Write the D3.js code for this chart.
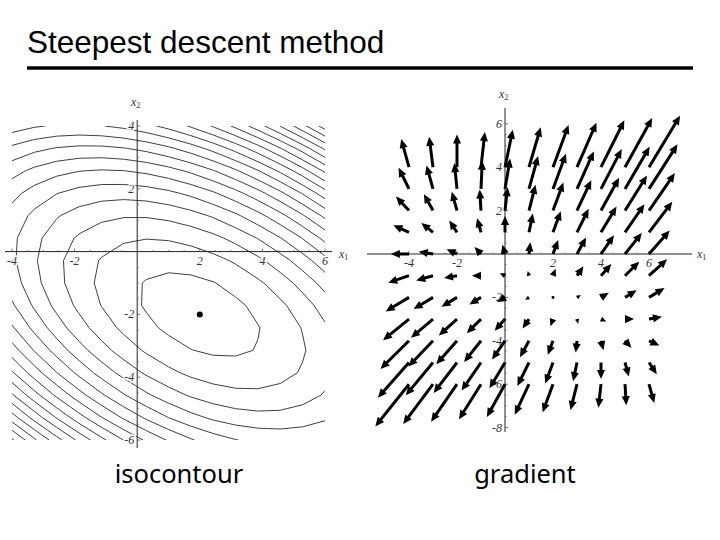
<!DOCTYPE html>
<html>
<head>
<meta charset="utf-8">
<script src="https://cdn.jsdelivr.net/npm/d3@7"></script>
<style>
  body { margin: 0; background: #fff; }
  svg { display: block; }
</style>
</head>
<body>
<svg id="chart" width="720" height="540"></svg>
<script>
// quadratic form f(x) = 1/2 x'Ax - b'x (minimum at (2,-2))
var quadA = [[3, 2], [2, 6]];
var quadB = [2, -8];
var minPoint = [2, -2];

// isocontour levels
var contourLevels = [-5.5, 3.5, 12.5, 21.5, 30.5, 39.5, 48.5, 57.5, 66.5, 75.5,
                     84.5, 93.5, 102.5, 111.5, 120.5, 129.5, 138.5, 147.5, 156.5, 165.5];

// gradient field sample grid
var fieldX1 = [-4, -3, -2, -1, 0, 1, 2, 3, 4, 5, 6];
var fieldX2 = [-6, -5, -4, -3, -2, -1, 0, 1, 2, 3, 4];
var arrowScale = 0.054;

// tick labels
var leftXTicks = [-4, -2, 2, 4, 6];
var leftYTicks = [-6, -4, -2, 2, 4];
var rightXTicks = [-4, -2, 2, 4, 6];
var rightYTicks = [-8, -6, -4, -2, 2, 4, 6];

var titleText = "Steepest descent method";
var captions = ["isocontour", "gradient"];

var svg = d3.select("#chart");
svg.append("rect").attr("width", 720).attr("height", 540).attr("fill", "#fff");

// title + rule
svg.append("text")
    .attr("x", 27).attr("y", 53)
    .attr("font-family", "'Liberation Sans', Arial, sans-serif")
    .attr("font-size", 31.5)
    .text(titleText);
svg.append("line")
    .attr("x1", 27).attr("x2", 693).attr("y1", 68).attr("y2", 68)
    .attr("stroke", "#000").attr("stroke-width", 3.5);

function f(x, y) {
    return 0.5 * (quadA[0][0] * x * x + 2 * quadA[0][1] * x * y + quadA[1][1] * y * y)
        - quadB[0] * x - quadB[1] * y;
}
function grad(x, y) {
    return [quadA[0][0] * x + quadA[0][1] * y - quadB[0],
            quadA[1][0] * x + quadA[1][1] * y - quadB[1]];
}

var tickFont = "'Liberation Serif', 'Times New Roman', serif";

function drawAxes(g, xs, ys, xExt, yExt, xTicks, yTicks, halo) {
    var x0 = xs(0), y0 = ys(0);
    g.append("line").attr("x1", xExt[0]).attr("x2", xExt[1]).attr("y1", y0).attr("y2", y0)
        .attr("stroke", "#222").attr("stroke-width", 1);
    g.append("line").attr("x1", x0).attr("x2", x0).attr("y1", yExt[0]).attr("y2", yExt[1])
        .attr("stroke", "#222").attr("stroke-width", 1);

    // major + minor ticks
    var xd = xs.domain(), yd = ys.domain();
    d3.range(Math.ceil(xd[0] * 2) / 2, xd[1] + 0.01, 0.5).forEach(function(v) {
        if (v === 0) return;
        var major = Math.abs(v % 2) < 1e-9;
        g.append("line").attr("x1", xs(v)).attr("x2", xs(v))
            .attr("y1", y0 - (major ? 3 : 1.5)).attr("y2", y0)
            .attr("stroke", "#555").attr("stroke-width", 0.8);
    });
    d3.range(Math.ceil(yd[0] * 2) / 2, yd[1] + 0.01, 0.5).forEach(function(v) {
        if (v === 0) return;
        var major = Math.abs(v % 2) < 1e-9;
        g.append("line").attr("x1", x0).attr("x2", x0 + (major ? 3 : 1.5))
            .attr("y1", ys(v)).attr("y2", ys(v))
            .attr("stroke", "#555").attr("stroke-width", 0.8);
    });

    var xt = g.selectAll(".xt").data(xTicks).enter().append("text")
        .attr("x", function(d) { return xs(d); })
        .attr("y", y0 + 13)
        .attr("text-anchor", "middle")
        .attr("font-family", tickFont).attr("font-size", 12).attr("font-style", "italic")
        .attr("fill", "#333")
        .text(function(d) { return d; });
    var yt = g.selectAll(".yt").data(yTicks).enter().append("text")
        .attr("x", x0 - 3)
        .attr("y", function(d) { return ys(d) + 4; })
        .attr("text-anchor", "end")
        .attr("font-family", tickFont).attr("font-size", 12).attr("font-style", "italic")
        .attr("fill", "#333")
        .text(function(d) { return d; });
    if (halo) {
        [xt, yt].forEach(function(sel) {
            sel.attr("stroke", "#fff").attr("stroke-width", 3).attr("paint-order", "stroke");
        });
    }
}

function axisName(g, x, y, sub) {
    var t = g.append("text").attr("x", x).attr("y", y)
        .attr("font-family", tickFont).attr("font-size", 12).attr("font-style", "italic")
        .attr("fill", "#333");
    t.append("tspan").text("x");
    t.append("tspan").attr("font-size", 8).attr("dy", 2).attr("font-style", "normal").text(sub);
}

// ---------- left: isocontours ----------
var xL = d3.scaleLinear().domain([-4, 6]).range([12, 325]);
var yL = d3.scaleLinear().domain([-6, 4]).range([440, 126]);
var left = svg.append("g");

var gridN = 15;
var stepX = 10 / (gridN - 1), stepY = 10 / (gridN - 1);
var values = new Array(gridN * gridN);
for (var j = 0; j < gridN; j++) {
    for (var i = 0; i < gridN; i++) {
        values[i + j * gridN] = f(-4 + i * stepX, 4 - j * stepY);
    }
}
var contours = d3.contours().size([gridN, gridN]).thresholds(contourLevels)(values);
var proj = d3.geoTransform({
    point: function(cx, cy) {
        this.stream.point(xL(-4 + (cx - 0.5) * stepX), yL(4 - (cy - 0.5) * stepY));
    }
});
var cpath = d3.geoPath(proj);

left.append("clipPath").attr("id", "clipL").append("rect")
    .attr("x", xL(-4)).attr("y", yL(4))
    .attr("width", xL(6) - xL(-4)).attr("height", yL(-6) - yL(4));

drawAxes(left, xL, yL, [5, 332], [120, 448], leftXTicks, leftYTicks, true);

left.append("g").attr("clip-path", "url(#clipL)")
    .selectAll("path").data(contours).enter().append("path")
    .attr("d", cpath)
    .attr("fill", "none")
    .attr("stroke", "#2a2a2a")
    .attr("stroke-width", 0.9);

// labels over the contour lines
left.selectAll("text").raise();

left.append("circle")
    .attr("cx", xL(minPoint[0])).attr("cy", yL(minPoint[1]))
    .attr("r", 3).attr("fill", "#000");

axisName(left, 131, 106, "2");
axisName(left, 339, 258, "1");

// ---------- right: gradient field ----------
var xR = d3.scaleLinear().domain([-4, 6]).range([409, 649]);
var yR = d3.scaleLinear().domain([-8, 6]).range([427.6, 123.8]);
var right = svg.append("g");

drawAxes(right, xR, yR, [367, 692], [108, 432], rightXTicks, rightYTicks, false);

var arrows = [];
fieldX1.forEach(function(x) {
    fieldX2.forEach(function(y) {
        var gv = grad(x, y);
        arrows.push({x: x, y: y, ex: x + arrowScale * gv[0], ey: y + arrowScale * gv[1]});
    });
});

// arrows drawn over the tick labels, like the original
var ag = right.append("g");
arrows.forEach(function(a) {
    var sx = xR(a.x), sy = yR(a.y), ex = xR(a.ex), ey = yR(a.ey);
    var dx = ex - sx, dy = ey - sy, L = Math.sqrt(dx * dx + dy * dy);
    if (L < 1.5) {
        ag.append("rect").attr("x", sx - 1.3).attr("y", sy - 1.3)
            .attr("width", 2.6).attr("height", 2.6).attr("fill", "#000");
        return;
    }
    var ux = dx / L, uy = dy / L;
    var hl = Math.min(9, L), hw = hl * 0.45;
    var bx = ex - ux * hl, by = ey - uy * hl;
    if (L > hl) {
        ag.append("line")
            .attr("x1", sx).attr("y1", sy)
            .attr("x2", bx + ux * 1).attr("y2", by + uy * 1)
            .attr("stroke", "#000").attr("stroke-width", 3);
    }
    ag.append("path")
        .attr("d", "M" + ex + "," + ey +
                   "L" + (bx - uy * hw) + "," + (by + ux * hw) +
                   "L" + (bx + uy * hw) + "," + (by - ux * hw) + "Z")
        .attr("fill", "#000");
});

axisName(right, 499, 98, "2");
axisName(right, 697, 258, "1");

// captions
svg.append("text")
    .attr("x", 179).attr("y", 483)
    .attr("text-anchor", "middle")
    .attr("font-family", "'Noto Sans', 'Open Sans', sans-serif")
    .attr("font-size", 25.5)
    .text(captions[0]);
svg.append("text")
    .attr("x", 525).attr("y", 483)
    .attr("text-anchor", "middle")
    .attr("font-family", "'Noto Sans', 'Open Sans', sans-serif")
    .attr("font-size", 25.5)
    .text(captions[1]);
</script>
</body>
</html>
